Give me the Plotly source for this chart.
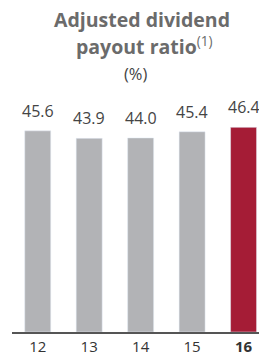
import plotly.graph_objects as go

years = ["12", "13", "14", "15", "16"]
values = [45.6, 43.9, 44.0, 45.4, 46.4]
labels = ["45.6", "43.9", "44.0", "45.4", "46.4"]
tick_labels = ["12", "13", "14", "15", "<b>16</b>"]
colors = ["#b2b3b6", "#b2b3b6", "#b2b3b6", "#b2b3b6", "#a51c36"]

FONT = "Open Sans, Noto Sans, sans-serif"
W, H = 259, 355
ML, MR, MT, MB = 12, 0, 100, 23
PH = H - MT - MB


def py(px):
    # convert pixel y (from top) to paper coordinate
    return (H - MB - px) / PH


def px_x(px):
    return (px - ML) / (W - ML - MR)


fig = go.Figure()
fig.add_trace(go.Bar(
    x=list(range(len(years))), y=values, marker_color=colors,
    width=0.505, hoverinfo="skip",
))

for i, (v, t) in enumerate(zip(values, labels)):
    fig.add_annotation(x=i, y=v, text=t, showarrow=False, yanchor="bottom",
                       yshift=7, font=dict(family=FONT, size=16, color="#444444"))

title_color = "#6b6b6b"
fig.add_annotation(xref="paper", yref="paper", x=px_x(142), y=py(19), yanchor="middle",
                   text="<b>Adjusted dividend</b>", showarrow=False,
                   font=dict(family=FONT, size=19.5, color=title_color))
fig.add_annotation(xref="paper", yref="paper", x=px_x(144), y=py(45), yanchor="middle",
                   text="<b>payout ratio</b><sup>(1)</sup>", showarrow=False,
                   font=dict(family=FONT, size=19.5, color=title_color))
fig.add_annotation(xref="paper", yref="paper", x=px_x(136), y=py(73), yanchor="middle",
                   text="(%)", showarrow=False,
                   font=dict(family=FONT, size=16.5, color="#444444"))

fig.update_layout(
    width=W, height=H,
    margin=dict(l=ML, r=MR, t=MT, b=MB),
    paper_bgcolor="white", plot_bgcolor="white",
    showlegend=False,
    xaxis=dict(range=[-0.5, 4.3], tickvals=list(range(len(years))), ticktext=tick_labels,
               showgrid=False, zeroline=False, showline=True, linecolor="#555555", linewidth=1.5,
               ticks="", tickfont=dict(family=FONT, size=15, color="#333333")),
    yaxis=dict(range=[0, 52.6], visible=False, showgrid=False),
)
fig.write_html("out.html", config={"displayModeBar": False},
               post_script="document.body.style.margin='0';document.body.style.overflow='hidden';")
